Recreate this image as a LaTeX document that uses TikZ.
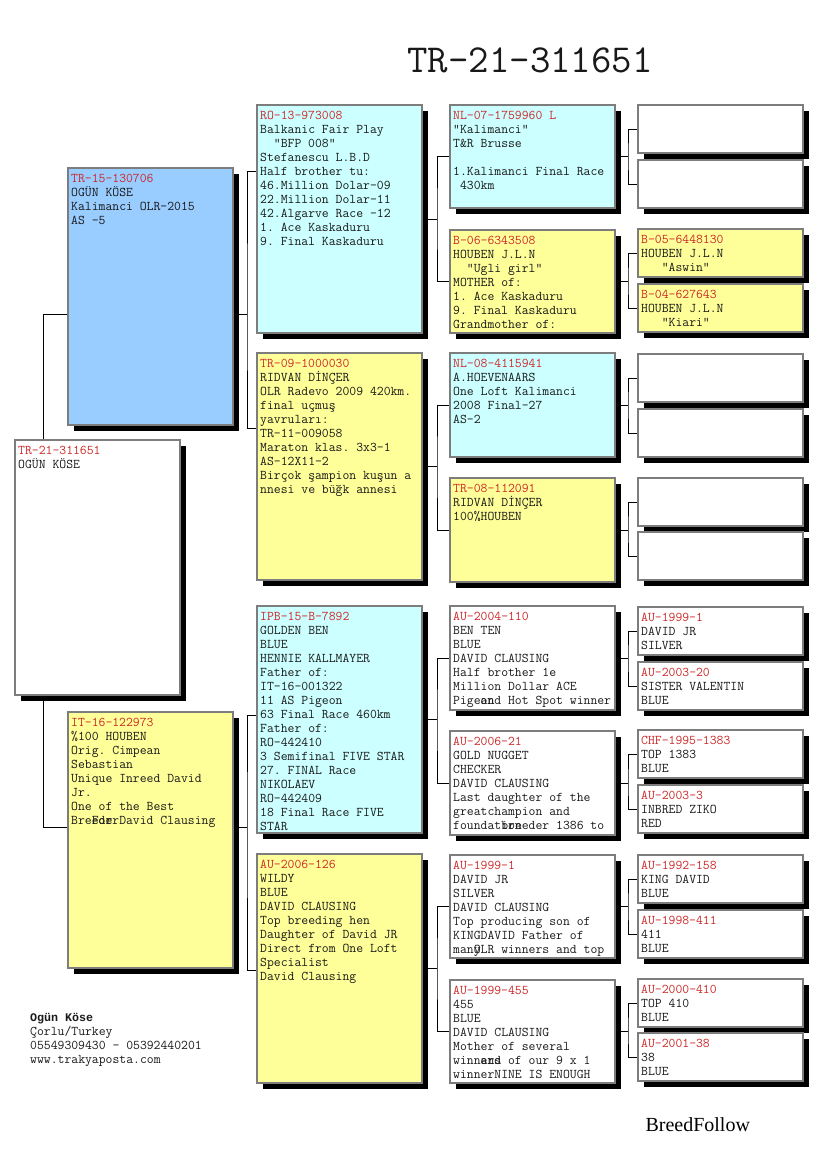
\documentclass[tikz,border=0pt]{standalone}
\usepackage{fontspec}
\setmainfont{Liberation Serif}
\newfontfamily\monob{Liberation Mono}
\usetikzlibrary{shadows,backgrounds}
\definecolor{idred}{RGB}{204,40,40}
\definecolor{txt}{RGB}{25,25,25}
\definecolor{bblue}{RGB}{153,204,255}
\definecolor{bcyan}{RGB}{204,255,255}
\definecolor{byel}{RGB}{255,255,153}
\definecolor{bord}{RGB}{125,125,125}
\newcommand{\rid}[1]{\textcolor{idred}{#1}}
\newcommand{\fst}{\rule{0pt}{11pt}}
\tikzset{
  card/.style={draw=bord, line width=1.2pt, anchor=north west, inner sep=0pt, outer sep=0pt,
    minimum width=165pt,
    drop shadow={shadow xshift=6pt, shadow yshift=-6pt, opacity=1, fill=black}},
  txtn/.style={anchor=north west, inner sep=0pt, align=left, text=txt,
    font={\ttfamily\fontsize{13.33}{14}\selectfont\frenchspacing}},
  conn/.style={line width=0.9pt, draw=black},
}
\newcommand{\pcard}[6]{%
  \node[card, fill=#5, minimum height=#4pt] (#1) at (#2,#3) {};
  \node[txtn] (#1t) at ([xshift=3pt,yshift=-3pt]#1.north west) {\fst#6};
}
\begin{document}
\begin{tikzpicture}[x=1pt,y=-1pt]
\useasboundingbox (0,0) rectangle (825,1172);
\begin{pgfonlayer}{background}
\fill[white] (0,0) rectangle (825,1172);
\end{pgfonlayer}

\node[font={\ttfamily\fontsize{39.7}{44}\selectfont}, anchor=base, text=txt] (title) at (530,73) {TR-21-311651};

% generation 0
\pcard{g0}{15}{440}{255}{white}{\rid{TR-21-311651}\\OGÜN KÖSE}
% generation 1
\pcard{g1a}{68}{168}{257}{bblue}{\rid{TR-15-130706}\\OGÜN KÖSE\\Kalimanci OLR-2015\\AS -5}
\pcard{g1b}{68}{712}{256}{byel}{\rid{IT-16-122973}\\\%100 HOUBEN\\Orig. Cimpean\\Sebastian\\Unique Inreed David\\Jr.\\One of the Best\\\rlap{Breeder}\hphantom{Bre}For David Clausing}
% generation 2
\pcard{g2a}{257}{105}{228}{bcyan}{\rid{RO-13-973008}\\Balkanic Fair Play\\~~"BFP 008"\\Stefanescu L.B.D\\Half brother tu:\\46.Million Dolar-09\\22.Million Dolar-11\\42.Algarve Race -12\\1. Ace Kaskaduru\\9. Final Kaskaduru}
\pcard{g2b}{257}{353}{227}{byel}{\rid{TR-09-1000030}\\RIDVAN DİNÇER\\OLR Radevo 2009 420km.\\final uçmuş\\yavruları:\\TR-11-009058\\Maraton klas. 3x3-1\\AS-12X11-2\\Birçok şampion kuşun a\\nnesi ve büğk annesi}
\pcard{g2c}{257}{606}{227}{bcyan}{\rid{IPB-15-B-7892}\\GOLDEN BEN\\BLUE\\HENNIE KALLMAYER\\Father of:\\IT-16-001322\\11 AS Pigeon\\63 Final Race 460km\\Father of:\\RO-442410\\3 Semifinal FIVE STAR\\27. FINAL Race\\NIKOLAEV\\RO-442409\\18 Final Race FIVE\\STAR}
\pcard{g2d}{257}{854}{229}{byel}{\rid{AU-2006-126}\\WILDY\\BLUE\\DAVID CLAUSING\\Top breeding hen\\Daughter of David JR\\Direct from One Loft\\Specialist\\David Clausing}
% generation 3
\pcard{g3a}{450}{105}{103}{bcyan}{\rid{NL-07-1759960 L}\\"Kalimanci"\\T\&R Brusse\\\\1.Kalimanci Final Race\\~430km}
\pcard{g3b}{450}{230}{103}{byel}{\rid{B-06-6343508}\\HOUBEN J.L.N\\~~"Ugli girl"\\MOTHER of:\\1. Ace Kaskaduru\\9. Final Kaskaduru\\Grandmother of:}
\pcard{g3c}{450}{353}{104}{bcyan}{\rid{NL-08-4115941}\\A.HOEVENAARS\\One Loft Kalimanci\\2008 Final-27\\AS-2}
\pcard{g3d}{450}{478}{104}{byel}{\rid{TR-08-112091}\\RIDVAN DİNÇER\\100\%HOUBEN}
\pcard{g3e}{450}{606}{104}{white}{\rid{AU-2004-110}\\BEN TEN\\BLUE\\DAVID CLAUSING\\Half brother 1e\\Million Dollar ACE\\\rlap{Pigeon}\hphantom{Pige}and Hot Spot winner}
\pcard{g3f}{450}{731}{104}{white}{\rid{AU-2006-21}\\GOLD NUGGET\\CHECKER\\DAVID CLAUSING\\Last daughter of the\\greatchampion and\\\rlap{foundation}\hphantom{foundat}breeder 1386 to}
\pcard{g3g}{450}{855}{103}{white}{\rid{AU-1999-1}\\DAVID JR\\SILVER\\DAVID CLAUSING\\Top producing son of\\KINGDAVID Father of\\\rlap{many}\hphantom{man}OLR winners and top}
\pcard{g3h}{450}{980}{103}{white}{\rid{AU-1999-455}\\455\\BLUE\\DAVID CLAUSING\\Mother of several\\\rlap{winners}\hphantom{winn}and of our 9 x 1\\winnerNINE IS ENOUGH}
% generation 4
\pcard{g4a}{638}{105}{48}{white}{}
\pcard{g4b}{638}{160}{48}{white}{}
\pcard{g4c}{638}{229}{48}{byel}{\rid{B-05-6448130}\\HOUBEN J.L.N\\~~~"Aswin"}
\pcard{g4d}{638}{284}{48}{byel}{\rid{B-04-627643}\\HOUBEN J.L.N\\~~~"Kiari"}
\pcard{g4e}{638}{354}{48}{white}{}
\pcard{g4f}{638}{409}{48}{white}{}
\pcard{g4g}{638}{478}{48}{white}{}
\pcard{g4h}{638}{532}{48}{white}{}
\pcard{g4i}{638}{607}{48}{white}{\rid{AU-1999-1}\\DAVID JR\\SILVER}
\pcard{g4j}{638}{662}{48}{white}{\rid{AU-2003-20}\\SISTER VALENTIN\\BLUE}
\pcard{g4k}{638}{730}{48}{white}{\rid{CHF-1995-1383}\\TOP 1383\\BLUE}
\pcard{g4l}{638}{785}{48}{white}{\rid{AU-2003-3}\\INBRED ZIKO\\RED}
\pcard{g4m}{638}{855}{48}{white}{\rid{AU-1992-158}\\KING DAVID\\BLUE}
\pcard{g4n}{638}{910}{48}{white}{\rid{AU-1998-411}\\411\\BLUE}
\pcard{g4o}{638}{979}{48}{white}{\rid{AU-2000-410}\\TOP 410\\BLUE}
\pcard{g4p}{638}{1033}{48}{white}{\rid{AU-2001-38}\\38\\BLUE}

% footer
\node[txtn] (footer) at (30,1010) {\fst{\monob\fontsize{11.67}{14}\selectfont\bfseries Ogün Köse}\\Çorlu/Turkey\\05549309430 - 05392440201\\www.trakyaposta.com};
\node[anchor=base west, font=\fontsize{20}{24}\selectfont] (brand) at (642,1131) {BreedFollow};

% connectors
\begin{pgfonlayer}{background}
\draw[conn] ([yshift=-146pt]g1a.north west) -| ([xshift=28pt]g0.north west);
\draw[conn] ([xshift=28pt]g0.south west) |- ([yshift=-115pt]g1b.north west);
% gen1 -> gen2
\draw[conn] ([yshift=-146pt]g1a.north east) -- ++(14,0) coordinate (j1);
\draw[conn] ([yshift=-66pt]g2a.north west) -| (j1) |- ([yshift=-75pt]g2b.north west);
\draw[conn] ([yshift=-115pt]g1b.north east) -- ++(14,0) coordinate (j2);
\draw[conn] ([yshift=-109pt]g2c.north west) -| (j2) |- ([yshift=-116pt]g2d.north west);
% gen2 -> gen3
\foreach \p/\a/\b in {g2a/g3a/g3b, g2b/g3c/g3d, g2c/g3e/g3f, g2d/g3g/g3h}{
  \draw[conn] (\p.east) -- ++(15,0) coordinate (c\p);
  \draw[conn] (\a.west) -| (c\p) |- (\b.west);
}
% gen3 -> gen4
\foreach \p/\a/\b in {g3a/g4a/g4b, g3b/g4c/g4d, g3c/g4e/g4f, g3d/g4g/g4h, g3e/g4i/g4j, g3f/g4k/g4l, g3g/g4m/g4n, g3h/g4o/g4p}{
  \draw[conn] (\p.east) -- ++(13,0) coordinate (c\p);
  \draw[conn] (\a.west) -| (c\p) |- (\b.west);
}
\end{pgfonlayer}
\end{tikzpicture}
\end{document}
